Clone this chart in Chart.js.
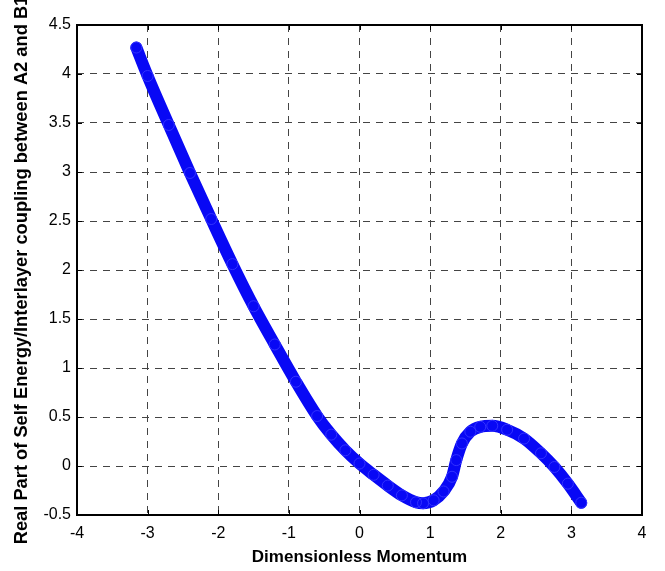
<!DOCTYPE html>
<html>
<head>
<meta charset="utf-8">
<title>Self energy vs momentum</title>
<script src="https://cdn.jsdelivr.net/npm/chart.js@4.4.0/dist/chart.umd.min.js"></script>
<style>
  html, body { margin: 0; padding: 0; background: #fff; }
  #wrap { width: 665px; height: 571px; }
</style>
</head>
<body>
<div id="wrap"><canvas id="plot" width="665" height="571"></canvas></div>
<script>
// values
var momentum = [-3.16, -3.0, -2.7, -2.4, -2.1, -1.8, -1.5, -1.2, -0.9, -0.6,
                -0.4, -0.2, 0.0, 0.2, 0.4, 0.6, 0.8, 0.9, 1.05, 1.19,
                1.31, 1.37, 1.45, 1.57, 1.71, 1.88, 2.09, 2.33, 2.57, 2.76,
                2.95, 3.14];
var selfEnergy = [4.27, 3.98, 3.48, 2.99, 2.52, 2.06, 1.63, 1.24, 0.86, 0.51,
                  0.32, 0.16, 0.025, -0.09, -0.2, -0.3, -0.37, -0.38, -0.35, -0.26,
                  -0.11, 0.06, 0.23, 0.35, 0.40, 0.41, 0.37, 0.28, 0.13, -0.01,
                  -0.18, -0.375];
var xTicks = [-4, -3, -2, -1, 0, 1, 2, 3, 4];
var yTicks = [-0.5, 0, 0.5, 1, 1.5, 2, 2.5, 3, 3.5, 4, 4.5];

var points = momentum.map(function (m, i) {
    return { x: m, y: selfEnergy[i] };
});

// box around the plot + inward tick marks, matlab style
var framePlugin = {
    id: 'frame',
    afterDraw: function (chart) {
        var a = chart.chartArea;
        var ctx = chart.ctx;
        var xs = chart.scales.x, ys = chart.scales.y;
        ctx.save();
        ctx.strokeStyle = '#000';
        ctx.lineWidth = 1;
        ctx.beginPath();
        xTicks.forEach(function (v) {
            var px = Math.round(xs.getPixelForValue(v)) + 0.5;
            ctx.moveTo(px, a.bottom); ctx.lineTo(px, a.bottom - 5);
            ctx.moveTo(px, a.top); ctx.lineTo(px, a.top + 5);
        });
        yTicks.forEach(function (v) {
            var py = Math.round(ys.getPixelForValue(v)) + 0.5;
            ctx.moveTo(a.left, py); ctx.lineTo(a.left + 5, py);
            ctx.moveTo(a.right, py); ctx.lineTo(a.right - 5, py);
        });
        ctx.stroke();
        ctx.lineWidth = 2;
        ctx.strokeRect(a.left, a.top, a.right - a.left, a.bottom - a.top);
        ctx.restore();
    }
};

var tickFont = { family: 'Liberation Sans, Arial, sans-serif', size: 16 };

var ctx = document.getElementById('plot').getContext('2d');
var chart = new Chart(ctx, {
    type: 'scatter',
    data: {
        datasets: [{
            label: 'Re(Sigma)',
            data: points,
            showLine: true,
            cubicInterpolationMode: 'monotone',
            borderColor: 'rgb(8, 8, 245)',
            borderWidth: 12,
            borderCapStyle: 'round',
            borderJoinStyle: 'round',
            pointRadius: 5.5,
            pointBorderWidth: 1,
            pointBorderColor: 'rgb(50, 50, 255)',
            pointBackgroundColor: 'rgba(0,0,0,0)'
        }]
    },
    options: {
        responsive: false,
        animation: false,
        layout: { padding: { left: 0, top: 25, right: 23, bottom: 0 } },
        plugins: {
            legend: { display: false },
            tooltip: { enabled: false }
        },
        scales: {
            x: {
                type: 'linear',
                min: -4,
                max: 4,
                afterFit: function (scale) { scale.height = 56; },
                afterBuildTicks: function (scale) {
                    scale.ticks = xTicks.map(function (v) { return { value: v }; });
                },
                ticks: {
                    color: '#000',
                    font: tickFont,
                    padding: 9,
                    maxRotation: 0,
                    callback: function (v) { return String(v); }
                },
                grid: { color: '#444', lineWidth: 1, drawTicks: false },
                border: { display: false, dash: [7, 6] },
                title: {
                    display: true,
                    text: 'Dimensionless Momentum',
                    color: '#000',
                    font: { family: 'Liberation Sans, Arial, sans-serif', size: 17, weight: 'bold' },
                    padding: { top: 0, bottom: 3 }
                }
            },
            y: {
                type: 'linear',
                min: -0.5,
                max: 4.5,
                afterFit: function (scale) { scale.width = 77; },
                afterBuildTicks: function (scale) {
                    scale.ticks = yTicks.map(function (v) { return { value: v }; });
                },
                ticks: {
                    color: '#000',
                    font: tickFont,
                    padding: 6,
                    callback: function (v) { return String(v); }
                },
                grid: { color: '#444', lineWidth: 1, drawTicks: false },
                border: { display: false, dash: [7, 6] },
                title: {
                    display: true,
                    text: 'Real Part of Self Energy/Interlayer coupling between A2 and B1',
                    color: '#000',
                    font: { family: 'Liberation Sans, Arial, sans-serif', size: 18.3, weight: 'bold' },
                    padding: { top: 11, bottom: 0 }
                }
            }
        }
    },
    plugins: [framePlugin]
});
</script>
</body>
</html>
